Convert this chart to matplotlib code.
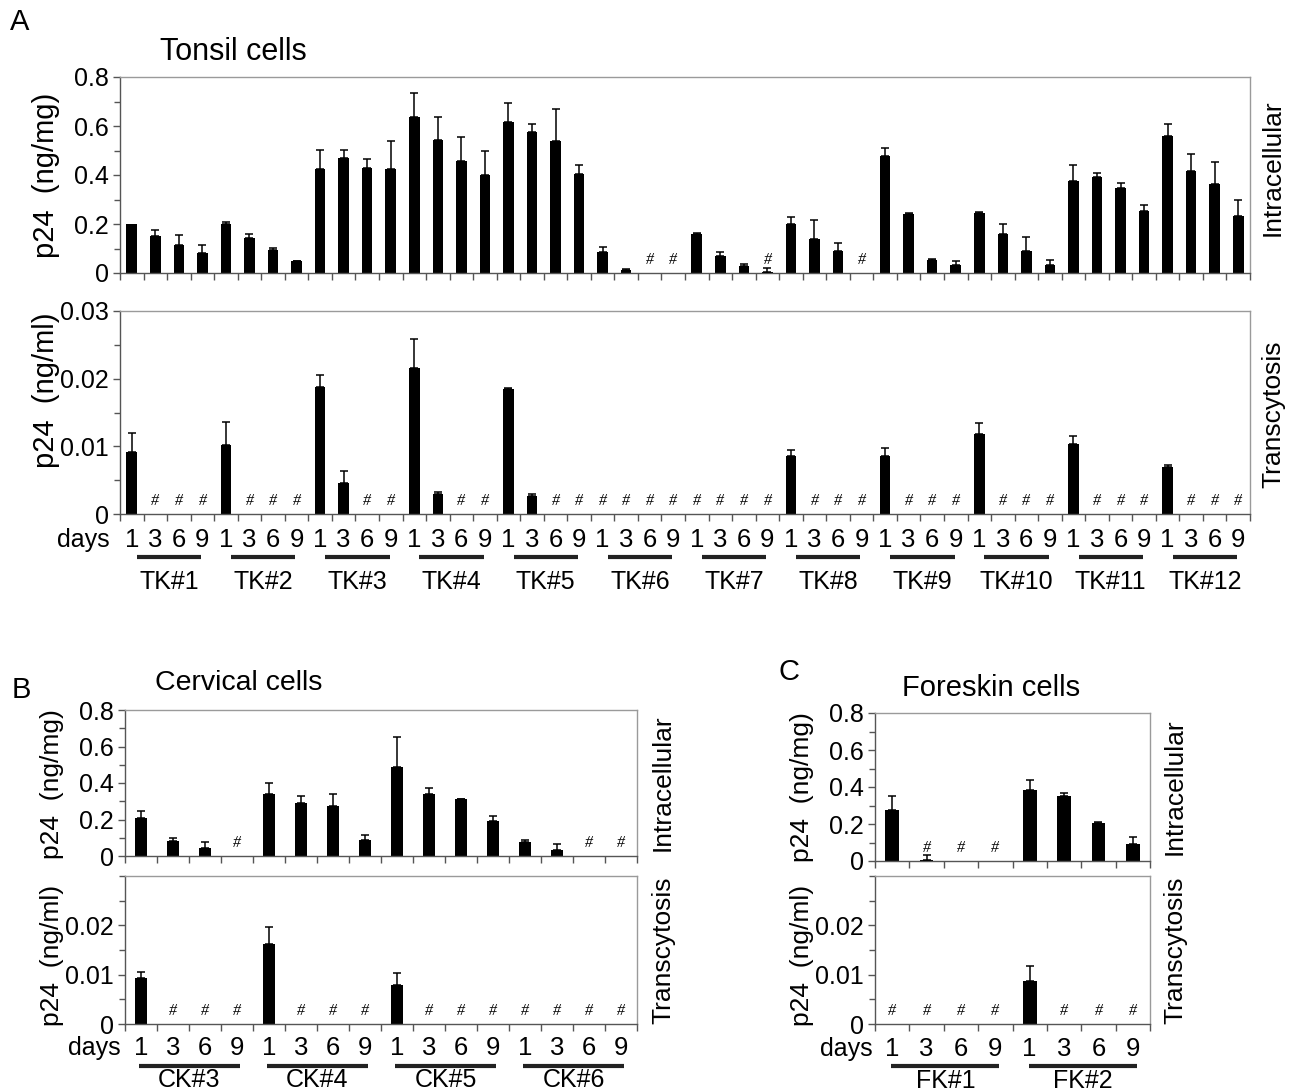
import matplotlib.pyplot as plt
import matplotlib.transforms as mtransforms
import numpy as np

plt.rcParams['font.family'] = ['Liberation Sans', 'DejaVu Sans']

W, H = 1297, 1091
DPI = 100

days = ['1', '3', '6', '9']

# --- A: tonsil cells ---
tonsil_groups = ['TK#1', 'TK#2', 'TK#3', 'TK#4', 'TK#5', 'TK#6',
                 'TK#7', 'TK#8', 'TK#9', 'TK#10', 'TK#11', 'TK#12']
tonsil_intra = [0.202, 0.153, 0.113, 0.080,
                0.202, 0.141, 0.094, 0.049,
                0.424, 0.469, 0.428, 0.424,
                0.638, 0.543, 0.456, 0.401,
                0.617, 0.577, 0.539, 0.405,
                0.084, 0.014, 0.0, 0.0,
                0.158, 0.071, 0.029, 0.005,
                0.200, 0.139, 0.091, 0.0,
                0.478, 0.242, 0.054, 0.033,
                0.246, 0.159, 0.091, 0.034,
                0.376, 0.390, 0.346, 0.254,
                0.561, 0.418, 0.363, 0.232]
tonsil_intra_err = [0.000, 0.021, 0.042, 0.033,
                    0.008, 0.019, 0.008, 0.002,
                    0.080, 0.032, 0.037, 0.114,
                    0.097, 0.095, 0.100, 0.097,
                    0.076, 0.033, 0.132, 0.036,
                    0.022, 0.002, 0.0, 0.0,
                    0.004, 0.013, 0.009, 0.014,
                    0.028, 0.077, 0.031, 0.0,
                    0.031, 0.002, 0.003, 0.017,
                    0.003, 0.043, 0.057, 0.020,
                    0.064, 0.017, 0.023, 0.022,
                    0.046, 0.067, 0.091, 0.065]
tonsil_intra_nd = [0, 0, 0, 0,  0, 0, 0, 0,  0, 0, 0, 0,  0, 0, 0, 0,
                   0, 0, 0, 0,  0, 0, 1, 1,  0, 0, 0, 1,  0, 0, 0, 1,
                   0, 0, 0, 0,  0, 0, 0, 0,  0, 0, 0, 0,  0, 0, 0, 0]
tonsil_trans = [0.0092, 0, 0, 0,
                0.0102, 0, 0, 0,
                0.01875, 0.0046, 0, 0,
                0.0216, 0.0029, 0, 0,
                0.01845, 0.0027, 0, 0,
                0, 0, 0, 0,
                0, 0, 0, 0,
                0.0086, 0, 0, 0,
                0.0085, 0, 0, 0,
                0.01175, 0, 0, 0,
                0.0104, 0, 0, 0,
                0.0070, 0, 0, 0]
tonsil_trans_err = [0.0027, 0, 0, 0,
                    0.0034, 0, 0, 0,
                    0.0018, 0.0018, 0, 0,
                    0.0042, 0.0004, 0, 0,
                    0.0002, 0.0002, 0, 0,
                    0, 0, 0, 0,
                    0, 0, 0, 0,
                    0.0008, 0, 0, 0,
                    0.0012, 0, 0, 0,
                    0.0017, 0, 0, 0,
                    0.0011, 0, 0, 0,
                    0.0002, 0, 0, 0]

# --- B: cervical cells ---
cervical_groups = ['CK#3', 'CK#4', 'CK#5', 'CK#6']
cervical_intra = [0.207, 0.084, 0.046, 0.0,
                  0.337, 0.289, 0.275, 0.090,
                  0.485, 0.342, 0.310, 0.194,
                  0.075, 0.031, 0.0, 0.0]
cervical_intra_err = [0.038, 0.016, 0.031, 0.0,
                      0.063, 0.039, 0.064, 0.025,
                      0.165, 0.030, 0.003, 0.024,
                      0.011, 0.035, 0.0, 0.0]
cervical_intra_nd = [0, 0, 0, 1,  0, 0, 0, 0,  0, 0, 0, 0,  0, 0, 1, 1]
cervical_trans = [0.0094, 0, 0, 0,
                  0.0163, 0, 0, 0,
                  0.00785, 0, 0, 0,
                  0, 0, 0, 0]
cervical_trans_err = [0.0011, 0, 0, 0,
                      0.0033, 0, 0, 0,
                      0.0025, 0, 0, 0,
                      0, 0, 0, 0]

# --- C: foreskin cells ---
foreskin_groups = ['FK#1', 'FK#2']
foreskin_intra = [0.277, 0.003, 0.0, 0.0,
                  0.386, 0.351, 0.204, 0.092]
foreskin_intra_err = [0.074, 0.031, 0.0, 0.0,
                      0.054, 0.017, 0.005, 0.036]
foreskin_intra_nd = [0, 1, 1, 1,  0, 0, 0, 0]
foreskin_trans = [0, 0, 0, 0,
                  0.0087, 0, 0, 0]
foreskin_trans_err = [0, 0, 0, 0,
                      0.0030, 0, 0, 0]

fig = plt.figure(figsize=(W / DPI, H / DPI), dpi=DPI)


def px_ax(left, top, right, bottom):
    return fig.add_axes([left / W, 1 - bottom / H, (right - left) / W, (bottom - top) / H])


def style_axes(ax, n):
    for side in ['top', 'right']:
        ax.spines[side].set_color('#9a9a9a')
    for side in ['left', 'bottom']:
        ax.spines[side].set_color('#555555')
    for sp in ax.spines.values():
        sp.set_linewidth(1.0)
    ax.set_xlim(-0.5, n - 0.5)
    ax.set_xticks(np.arange(n + 1) - 0.5)
    ax.set_xticklabels([])
    ax.tick_params(axis='x', which='major', length=5, width=1, color='#555555', direction='out')
    ax.tick_params(axis='y', which='both', width=1, color='#555555', direction='out',
                   labelsize=18, pad=3)
    ax.tick_params(axis='y', which='major', length=5)
    ax.tick_params(axis='y', which='minor', length=4)


def draw_bars(ax, vals, errs, nd, width):
    vals = np.asarray(vals, dtype=float)
    errs = np.asarray(errs, dtype=float)
    x = np.arange(len(vals))
    ax.bar(x, vals, width=width, color='black', zorder=2)
    m = errs > 0
    ax.errorbar(x[m], vals[m], yerr=[np.zeros(m.sum()), errs[m]], fmt='none',
                ecolor='black', elinewidth=1.1, capsize=2.8, capthick=1.1, zorder=3)
    # '#' = not detected
    for xi, v, flag in zip(x, vals, nd):
        if flag or v == 0:
            ax.annotate('#', (xi, 0), xytext=(0, 3.5), textcoords='offset points',
                        xycoords=('data', 'axes fraction'), ha='center', va='bottom',
                        fontsize=11.5, family='Liberation Serif', style='italic')
    style_axes(ax, len(vals))


def intra_yaxis(ax):
    ax.set_ylim(0, 0.8)
    ax.set_yticks([0, 0.2, 0.4, 0.6, 0.8])
    ax.set_yticklabels(['0', '0.2', '0.4', '0.6', '0.8'])
    ax.set_yticks([0.1, 0.3, 0.5, 0.7], minor=True)


def trans_yaxis(ax, top_label):
    ax.set_ylim(0, 0.03)
    if top_label:
        ax.set_yticks([0, 0.01, 0.02, 0.03])
        ax.set_yticklabels(['0', '0.01', '0.02', '0.03'])
        ax.set_yticks([0.005, 0.015, 0.025], minor=True)
    else:
        ax.set_yticks([0, 0.01, 0.02])
        ax.set_yticklabels(['0', '0.01', '0.02'])
        ax.set_yticks([0.005, 0.015, 0.025, 0.03], minor=True)


def day_labels(ax, groups, offs, line_span, days_dx):
    d_off, l_off, g_off = [o * 0.72 for o in offs]
    blend = mtransforms.blended_transform_factory(ax.transData, ax.transAxes)
    ax.annotate('days', (0, 0), xycoords='axes fraction', xytext=(days_dx * 0.72, -d_off),
                textcoords='offset points', ha='right', va='center', fontsize=18)
    for g, name in enumerate(groups):
        for d, lab in enumerate(days):
            ax.annotate(lab, (g * 4 + d, 0), xycoords=('data', 'axes fraction'),
                        xytext=(0, -d_off), textcoords='offset points',
                        ha='center', va='center', fontsize=18.5)
        x0, x1 = g * 4 + line_span[0], g * 4 + line_span[1]
        tr = blend + mtransforms.ScaledTranslation(0, -l_off / 72, fig.dpi_scale_trans)
        ax.plot([x0, x1], [0, 0], color='#222222', lw=3, transform=tr, clip_on=False,
                solid_capstyle='butt')
        ax.annotate(name, ((x0 + x1) / 2, 0), xycoords=('data', 'axes fraction'),
                    xytext=(0, -g_off), textcoords='offset points',
                    ha='center', va='center', fontsize=18)


def side_text(x, y, s, size=19, rot=90, ha='center'):
    fig.text(x / W, 1 - y / H, s, rotation=rot, ha=ha, va='center', fontsize=size)


# panel A
axA1 = px_ax(120, 77, 1250, 273)
draw_bars(axA1, tonsil_intra, tonsil_intra_err, tonsil_intra_nd, 0.45)
intra_yaxis(axA1)
axA2 = px_ax(120, 311, 1250, 514)
draw_bars(axA2, tonsil_trans, tonsil_trans_err, [0] * len(tonsil_trans), 0.45)
trans_yaxis(axA2, True)
day_labels(axA2, tonsil_groups, (26, 43, 68), (0.22, 2.95), -10)

side_text(10, 22, 'A', size=21, rot=0, ha='left')
side_text(160, 52, 'Tonsil cells', size=22, rot=0, ha='left')
side_text(46, 175, 'p24  (ng/mg)', size=21)
side_text(46, 390, 'p24  (ng/ml)', size=21)
side_text(1273, 168, 'Intracellular')
side_text(1273, 414, 'Transcytosis')

# panel B
axB1 = px_ax(125, 710, 637, 856)
draw_bars(axB1, cervical_intra, cervical_intra_err, cervical_intra_nd, 0.38)
intra_yaxis(axB1)
axB2 = px_ax(125, 876, 637, 1024)
draw_bars(axB2, cervical_trans, cervical_trans_err, [0] * len(cervical_trans), 0.38)
trans_yaxis(axB2, False)
day_labels(axB2, cervical_groups, (24, 42, 56), (-0.05, 3.08), -4)

side_text(12, 690, 'B', size=21, rot=0, ha='left')
side_text(155, 683, 'Cervical cells', size=20.5, rot=0, ha='left')
side_text(52, 784, 'p24  (ng/mg)', size=19)
side_text(52, 955, 'p24  (ng/ml)', size=19)
side_text(663, 783, 'Intracellular')
side_text(663, 950, 'Transcytosis')

# panel C
axC1 = px_ax(875, 713, 1150, 861)
draw_bars(axC1, foreskin_intra, foreskin_intra_err, foreskin_intra_nd, 0.4)
intra_yaxis(axC1)
axC2 = px_ax(875, 876, 1150, 1024)
draw_bars(axC2, foreskin_trans, foreskin_trans_err, [0] * len(foreskin_trans), 0.4)
trans_yaxis(axC2, False)
day_labels(axC2, foreskin_groups, (25, 42, 57), (-0.02, 3.12), -2)

side_text(778, 672, 'C', size=21, rot=0, ha='left')
side_text(902, 688, 'Foreskin cells', size=21, rot=0, ha='left')
side_text(802, 787, 'p24  (ng/mg)', size=19)
side_text(802, 955, 'p24  (ng/ml)', size=19)
side_text(1175, 787, 'Intracellular')
side_text(1175, 950, 'Transcytosis')

fig.savefig('out.png', dpi=DPI)
